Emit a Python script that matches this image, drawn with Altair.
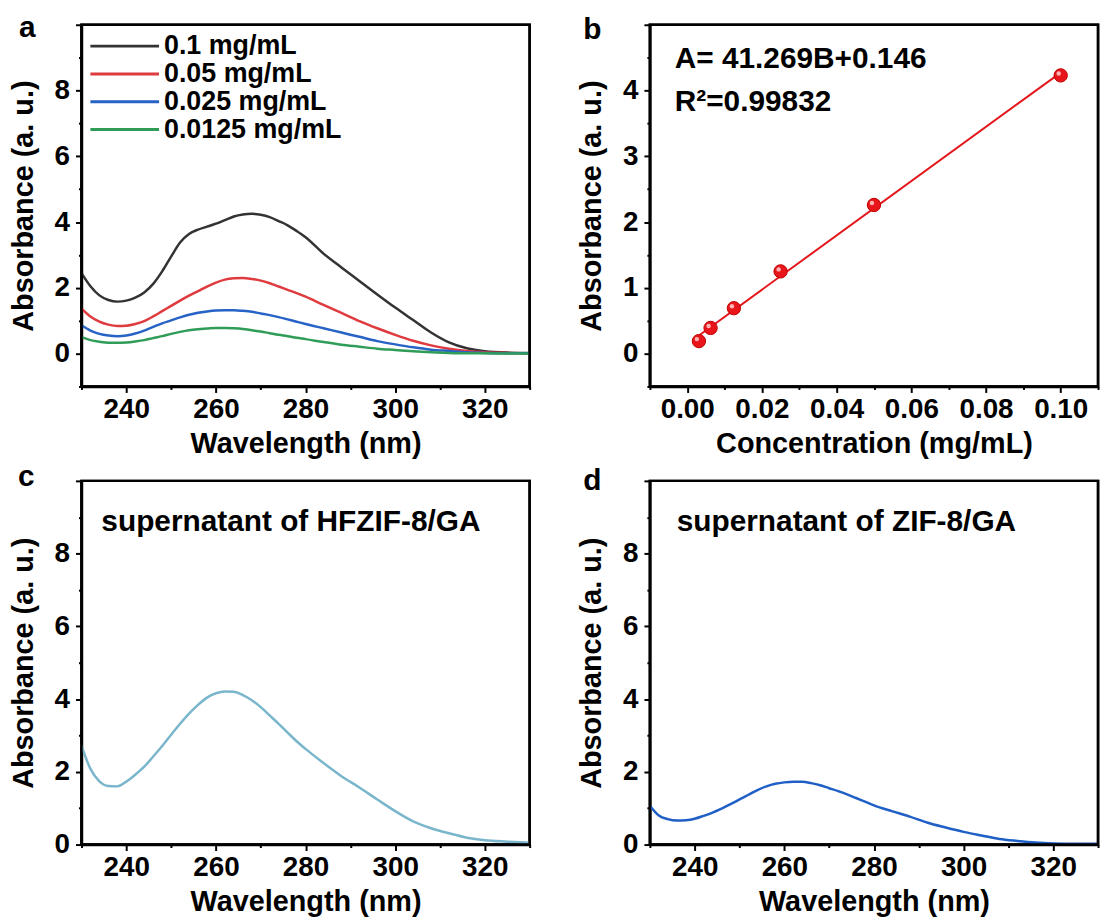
import altair as alt
import pandas as pd

FONT = "Liberation Sans"

# ---------------- data ----------------
wl = [230, 232, 234, 236, 238, 240, 242, 244, 246, 248, 250, 252, 254, 256, 258,
      260, 262, 264, 266, 268, 270, 272, 274, 276, 278, 280,
      284, 288, 292, 296, 300, 304, 308, 312, 316, 320, 325, 330]

abs_01 = [2.45, 2.05, 1.77, 1.63, 1.58, 1.61, 1.70, 1.86, 2.12, 2.50, 2.95, 3.38, 3.64, 3.77, 3.86,
          3.95, 4.06, 4.17, 4.23, 4.25, 4.22, 4.15, 4.03, 3.90, 3.73, 3.54,
          3.04, 2.62, 2.21, 1.80, 1.40, 1.02, 0.64, 0.34, 0.16, 0.07, 0.03, 0.02]
abs_005 = [1.37, 1.13, 0.97, 0.88, 0.84, 0.85, 0.90, 0.99, 1.13, 1.29, 1.45, 1.61, 1.76, 1.90, 2.04,
           2.16, 2.25, 2.29, 2.30, 2.27, 2.22, 2.14, 2.04, 1.94, 1.84, 1.73,
           1.48, 1.24, 0.99, 0.77, 0.57, 0.39, 0.25, 0.15, 0.08, 0.04, 0.02, 0.01]
abs_0025 = [0.86, 0.70, 0.60, 0.55, 0.53, 0.55, 0.61, 0.70, 0.81, 0.92, 1.01, 1.10, 1.18, 1.24, 1.28,
            1.31, 1.32, 1.32, 1.30, 1.27, 1.22, 1.17, 1.11, 1.04, 0.97, 0.90,
            0.77, 0.64, 0.51, 0.38, 0.28, 0.19, 0.12, 0.08, 0.04, 0.02, 0.01, 0.01]
abs_00125 = [0.50, 0.41, 0.36, 0.33, 0.33, 0.34, 0.37, 0.41, 0.47, 0.53, 0.60, 0.66, 0.71, 0.74, 0.76,
             0.78, 0.78, 0.77, 0.75, 0.71, 0.67, 0.62, 0.57, 0.53, 0.48, 0.44,
             0.35, 0.27, 0.21, 0.15, 0.11, 0.07, 0.04, 0.02, 0.01, 0.01, 0.0, 0.0]

series_names = ["0.1 mg/mL", "0.05 mg/mL", "0.025 mg/mL", "0.0125 mg/mL"]
series_colors = ["#333333", "#df3a3e", "#2763c6", "#2f9c58"]

conc = [0.003125, 0.00625, 0.0125, 0.025, 0.05, 0.1]
abs_b = [0.19, 0.39, 0.69, 1.25, 2.26, 4.23]
fit_conc = [0.003125, 0.1]
fit_abs = [0.275, 4.273]

abs_c = [2.72, 2.08, 1.74, 1.61, 1.60, 1.73, 1.92, 2.14, 2.42, 2.71, 3.02, 3.32, 3.60, 3.84, 4.04,
         4.16, 4.21, 4.20, 4.11, 3.97, 3.78, 3.55, 3.32, 3.08, 2.84, 2.63,
         2.24, 1.88, 1.57, 1.24, 0.92, 0.64, 0.45, 0.31, 0.19, 0.12, 0.08, 0.05]
abs_d = [1.07, 0.80, 0.70, 0.66, 0.67, 0.71, 0.79, 0.88, 0.99, 1.11, 1.24, 1.37, 1.50, 1.60, 1.67,
         1.71, 1.73, 1.73, 1.69, 1.63, 1.55, 1.47, 1.38, 1.28, 1.18, 1.08,
         0.92, 0.77, 0.60, 0.47, 0.35, 0.25, 0.155, 0.10, 0.055, 0.03, 0.02, 0.02]

wl_ticks = [230, 240, 250, 260, 270, 280, 290, 300, 310, 320, 330]
abs_ticks_a = [-1, 0, 1, 2, 3, 4, 5, 6, 7, 8, 9, 10]
abs_ticks_cd = [0, 1, 2, 3, 4, 5, 6, 7, 8, 9, 10]
conc_ticks = [-0.01, 0.0, 0.01, 0.02, 0.03, 0.04, 0.05, 0.06, 0.07, 0.08, 0.09, 0.10, 0.11]
abs_ticks_b = [-0.5, 0, 0.5, 1, 1.5, 2, 2.5, 3, 3.5, 4, 4.5, 5]

wl_domain = [230, 330]
a_domain = [-1, 10]
b_x_domain = [-0.01, 0.11]
b_y_domain = [-0.5, 5]
cd_domain = [0, 10]

# ---------------- styling helpers ----------------
W = 451
H_TOP = 364
H_BOT = 366
FRAME_W = 2.5

base_axis = dict(
    labelFont=FONT, labelFontSize=28, labelFontWeight="bold", labelColor="black",
    titleFont=FONT, titleFontSize=29, titleFontWeight="bold", titleColor="black",
    tickColor="black", tickWidth=2, grid=False,
    domain=True, domainColor="black", domainWidth=FRAME_W,
    labelOverlap=False, labelFlush=False,
)


def wl_axis():
    return alt.Axis(
        title="Wavelength (nm)", values=wl_ticks,
        labelExpr="datum.value % 20 === 0 ? datum.label : ''",
        tickSize={"condition": {"test": "datum.value % 20 === 0", "value": 6}, "value": 3},
        labelPadding=3, titlePadding=6, **base_axis)


def abs_axis(values, label_test, major_test, fmt_expr):
    return alt.Axis(
        title="Absorbance (a. u.)", values=values,
        labelExpr=f"({label_test}) ? {fmt_expr} : ''",
        tickSize={"condition": {"test": major_test, "value": 6}, "value": 3},
        labelPadding=6, titlePadding=16, **base_axis)


def frame(xdom, ydom):
    # box around the plot area: a rect spanning the full domains on its own scales
    return alt.Chart(pd.DataFrame({"k": [0]})).mark_rect(
        fillOpacity=0, stroke="black", strokeWidth=FRAME_W
    ).encode(
        x=alt.XDatum(xdom[0], scale=alt.Scale(domain=xdom, nice=False, zero=False), axis=None),
        x2=alt.X2Datum(xdom[1]),
        y=alt.YDatum(ydom[0], scale=alt.Scale(domain=ydom, nice=False, zero=False), axis=None),
        y2=alt.Y2Datum(ydom[1]),
    )


def letter(ch, dx, dy):
    return alt.Chart(pd.DataFrame({"t": [ch]})).mark_text(
        font=FONT, fontSize=30, fontWeight="bold", align="left",
        baseline="alphabetic", color="black"
    ).encode(x=alt.value(dx), y=alt.value(dy), text="t:N")


def note(txt, dx, dy):
    return alt.Chart(pd.DataFrame({"t": [txt]})).mark_text(
        font=FONT, fontSize=30, fontWeight="bold", align="left",
        baseline="alphabetic", color="black"
    ).encode(x=alt.value(dx), y=alt.value(dy), text="t:N")


def panel(main, xdom, ydom, extras, h):
    return alt.layer(main, frame(xdom, ydom), *extras).resolve_scale(
        x="independent", y="independent").properties(width=W, height=h)


# ---------------- panel a ----------------
df_a = pd.DataFrame({
    "wl": wl * 4,
    "A": abs_01 + abs_005 + abs_0025 + abs_00125,
    "series": [n for n in series_names for _ in wl],
})

sc_wl = alt.Scale(domain=wl_domain, nice=False, zero=False)
sc_a = alt.Scale(domain=a_domain, nice=False, zero=False)
x_wl = alt.X("wl:Q", scale=sc_wl, axis=wl_axis())

lines_a = alt.Chart(df_a).mark_line(strokeWidth=2.5, interpolate="monotone").encode(
    x=x_wl,
    y=alt.Y("A:Q", scale=sc_a,
            axis=abs_axis(abs_ticks_a, "datum.value >= 0 && datum.value <= 8 && datum.value % 2 === 0",
                          "datum.value % 2 === 0", "datum.label")),
    color=alt.Color("series:N", sort=series_names,
                    scale=alt.Scale(domain=series_names, range=series_colors),
                    legend=alt.Legend(title=None, orient="none", legendX=13, legendY=8,
                                      direction="vertical", symbolType="M-3,0H3", symbolSize=530,
                                      symbolStrokeWidth=3, symbolOffset=17, labelOffset=26,
                                      labelFont=FONT, labelFontSize=27, labelFontWeight="bold",
                                      labelColor="black", labelLimit=400, rowPadding=0,
                                      padding=0)),
    detail="series:N",
)

panel_a = panel(lines_a, wl_domain, a_domain, [letter("a", -63, 12)], H_TOP)

# ---------------- panel b ----------------
df_b = pd.DataFrame({"c": conc, "A": abs_b})
df_fit = pd.DataFrame({"c": fit_conc, "A": fit_abs})

sc_c = alt.Scale(domain=b_x_domain, nice=False, zero=False)
sc_b = alt.Scale(domain=b_y_domain, nice=False, zero=False)
x_b = alt.X("c:Q", scale=sc_c,
            axis=alt.Axis(title="Concentration (mg/mL)", values=conc_ticks,
                          labelExpr="(abs(round(datum.value*100)) % 2 === 0 && datum.value > -0.005 && datum.value < 0.105) ? format(datum.value, '.2f') : ''",
                          tickSize={"condition": {"test": "abs(round(datum.value*100)) % 2 === 0", "value": 6}, "value": 3},
                          labelPadding=3, titlePadding=6, **base_axis))
y_b = alt.Y("A:Q", scale=sc_b,
            axis=abs_axis(abs_ticks_b, "datum.value % 1 === 0 && datum.value >= 0 && datum.value <= 4",
                          "datum.value % 1 === 0", "format(datum.value, 'd')"))

fit_line = alt.Chart(df_fit).mark_line(color="#e3161c", strokeWidth=2).encode(x=x_b, y=y_b)
pts = alt.Chart(df_b).mark_point(filled=True, shape="circle", size=180, color="#e8161b",
                                 stroke="#c00000", strokeWidth=1, opacity=1).encode(x=x_b, y=y_b)
pts_hi = alt.Chart(df_b).mark_point(filled=True, shape="circle", size=20, color="#ffb4b4",
                                    opacity=1, xOffset=-2, yOffset=-2).encode(x=x_b, y=y_b)

panel_b = panel(alt.layer(fit_line, pts, pts_hi), b_x_domain, b_y_domain,
                [note("A= 41.269B+0.146", 25, 44), note("R²=0.99832", 25, 87), letter("b", -67, 14)],
                H_TOP)

# ---------------- panels c and d ----------------
df_c = pd.DataFrame({"wl": wl, "A": abs_c})
df_d = pd.DataFrame({"wl": wl, "A": abs_d})

sc_cd = alt.Scale(domain=cd_domain, nice=False, zero=False)
y_cd = alt.Y("A:Q", scale=sc_cd,
             axis=abs_axis(abs_ticks_cd, "datum.value <= 8 && datum.value % 2 === 0",
                           "datum.value % 2 === 0", "datum.label"))

line_c = alt.Chart(df_c).mark_line(color="#7ab6cb", strokeWidth=2.5, interpolate="monotone").encode(
    x=x_wl, y=y_cd)
line_d = alt.Chart(df_d).mark_line(color="#1f5fc6", strokeWidth=2.5, interpolate="monotone").encode(
    x=x_wl, y=y_cd)

panel_c = panel(line_c, wl_domain, cd_domain,
                [note("supernatant of HFZIF-8/GA", 20, 50), letter("c", -64, 5)], H_BOT)
panel_d = panel(line_d, wl_domain, cd_domain,
                [note("supernatant of ZIF-8/GA", 27, 50), letter("d", -67, 9)], H_BOT)

chart = alt.concat(
    panel_a, panel_b, panel_c, panel_d,
    columns=2, bounds="flush",
    spacing=alt.RowColnumber(row=95, column=121),
).properties(
    padding={"left": 8, "top": 6, "right": 0, "bottom": 0},
    background="white",
).configure_view(
    stroke="black", strokeWidth=FRAME_W
)

chart.save("out.html", embed_options={"renderer": "svg", "actions": False})
